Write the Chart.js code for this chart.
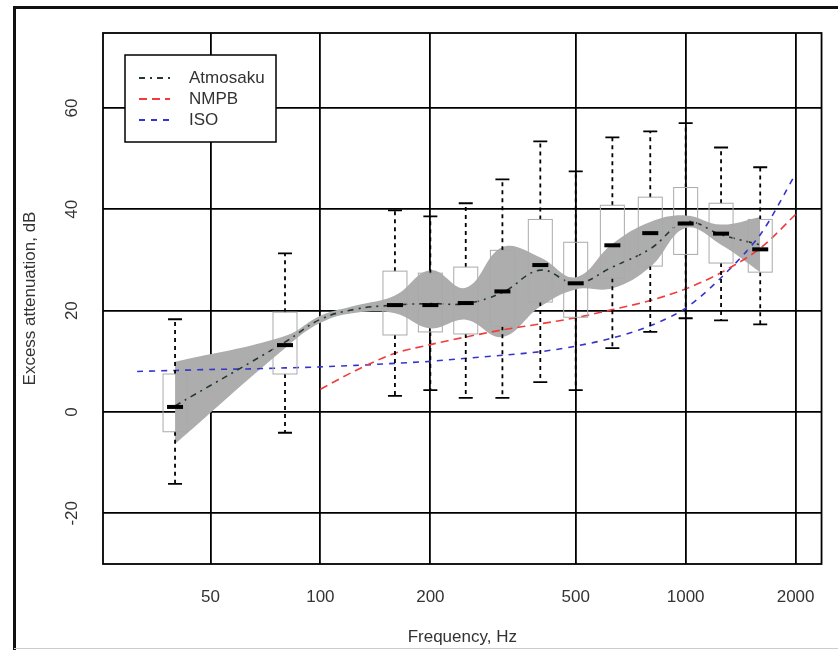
<!DOCTYPE html>
<html>
<head>
<meta charset="utf-8">
<script src="https://cdn.jsdelivr.net/npm/chart.js@4.4.0/dist/chart.umd.min.js"></script>
<style>
  html, body { margin: 0; padding: 0; background: #fff; }
  #wrap { width: 838px; height: 650px; }
</style>
</head>
<body>
<div id="wrap"><canvas id="chart" width="838" height="650"></canvas></div>
<script>
// Measured boxplots, one per third-octave band (Hz, dB)
const boxFreqs = [40, 80, 160, 200, 250, 315, 400, 500, 630, 800, 1000, 1250, 1600];
const whiskerLow = [-14.2, -4.1, 3.2, 4.3, 2.8, 2.8, 5.9, 4.3, 12.6, 15.8, 18.5, 18.1, 17.3];
const q1 = [-3.9, 7.5, 15.2, 15.8, 15.4, 16.9, 21.7, 18.7, 26.4, 28.8, 31.1, 29.4, 27.6];
const median = [1.0, 13.2, 21.1, 21.1, 21.5, 23.8, 29.0, 25.4, 32.9, 35.3, 37.2, 35.2, 32.1];
const q3 = [7.5, 19.7, 27.8, 27.4, 28.6, 31.9, 38.0, 33.5, 40.8, 42.4, 44.3, 41.2, 38.0];
const whiskerHigh = [18.3, 31.3, 39.8, 38.6, 41.2, 45.9, 53.4, 47.5, 54.2, 55.4, 57.0, 52.2, 48.3];

// Atmosaku prediction and its grey band
const bandFreqs = [40, 80, 100, 125, 160, 200, 250, 315, 400, 500, 630, 800, 1000, 1250, 1600];
const bandUpper = [9.9, 15.0, 19.0, 21.0, 23.0, 28.0, 24.5, 32.5, 30.5, 26.6, 33.2, 37.5, 38.8, 37.0, 38.5];
const bandLower = [-6.3, 12.6, 17.6, 19.6, 19.5, 16.5, 18.2, 14.8, 20.8, 24.2, 24.4, 28.6, 36.3, 33.0, 27.6];
const atmosaku = [1.2, 13.8, 18.3, 20.3, 21.1, 21.4, 21.4, 23.6, 28.0, 25.4, 28.6, 32.2, 37.5, 35.0, 33.0];

// NMPB model
const nmpbFreqs = [100, 125, 160, 200, 250, 315, 400, 500, 630, 800, 1000, 1250, 1600, 2000];
const nmpb = [4.5, 8.2, 11.6, 13.3, 14.8, 16.2, 17.4, 18.6, 20.2, 22.0, 24.3, 27.5, 32.3, 39.0];

// ISO 9613 model
const isoFreqs = [31.5, 40, 50, 63, 80, 100, 125, 160, 200, 250, 315, 400, 500, 630, 800, 1000, 1250, 1600, 2000];
const iso = [8.0, 8.2, 8.4, 8.5, 8.7, 8.9, 9.2, 9.6, 10.0, 10.6, 11.2, 11.9, 13.0, 14.6, 17.0, 20.5, 26.5, 35.0, 47.0];

const xTicks = [50, 100, 200, 500, 1000, 2000];
const yTicks = [-20, 0, 20, 40, 60];

const FONT = "'Liberation Sans', Arial, sans-serif";
const TEXT = "#333";

function pts(xs, ys) {
  return xs.map((x, i) => ({ x: x, y: ys[i] }));
}

// white page, partial outer frame
const framePlugin = {
  id: "frame",
  beforeDraw(chart) {
    const ctx = chart.ctx;
    ctx.save();
    ctx.fillStyle = "#fff";
    ctx.fillRect(0, 0, chart.width, chart.height);
    ctx.strokeStyle = "#111";
    ctx.lineWidth = 3;
    ctx.beginPath();
    ctx.moveTo(14.5, chart.height);
    ctx.lineTo(14.5, 7.5);
    ctx.lineTo(chart.width, 7.5);
    ctx.stroke();
    ctx.strokeStyle = "#ccc";
    ctx.lineWidth = 1;
    ctx.beginPath();
    ctx.moveTo(14, chart.height - 1.5);
    ctx.lineTo(chart.width, chart.height - 1.5);
    ctx.stroke();
    ctx.restore();
  },
  afterDraw(chart) {
    const a = chart.chartArea;
    const ctx = chart.ctx;
    ctx.save();
    ctx.strokeStyle = "#000";
    ctx.lineWidth = 1.8;
    ctx.strokeRect(a.left, a.top, a.right - a.left, a.bottom - a.top);
    ctx.restore();
  },
};

// boxplots drawn from the scales
const boxPlotPlugin = {
  id: "boxPlots",
  afterDatasetsDraw(chart) {
    const { ctx } = chart;
    const x = chart.scales.x;
    const y = chart.scales.y;
    ctx.save();
    boxFreqs.forEach((f, i) => {
      const cx = x.getPixelForValue(f);
      const yLo = y.getPixelForValue(whiskerLow[i]);
      const yQ1 = y.getPixelForValue(q1[i]);
      const yMed = y.getPixelForValue(median[i]);
      const yQ3 = y.getPixelForValue(q3[i]);
      const yHi = y.getPixelForValue(whiskerHigh[i]);

      // whiskers
      ctx.strokeStyle = "#000";
      ctx.lineWidth = 1.8;
      ctx.setLineDash([4, 4]);
      ctx.beginPath();
      ctx.moveTo(cx, yQ3);
      ctx.lineTo(cx, yHi);
      ctx.moveTo(cx, yQ1);
      ctx.lineTo(cx, yLo);
      ctx.stroke();
      ctx.setLineDash([]);
      // caps
      ctx.beginPath();
      ctx.moveTo(cx - 7, yHi);
      ctx.lineTo(cx + 7, yHi);
      ctx.moveTo(cx - 7, yLo);
      ctx.lineTo(cx + 7, yLo);
      ctx.stroke();
      // box
      ctx.strokeStyle = "#aaa";
      ctx.lineWidth = 1;
      ctx.strokeRect(cx - 12, yQ3, 24, yQ1 - yQ3);
      // median
      ctx.fillStyle = "#000";
      ctx.fillRect(cx - 8, yMed - 2, 16, 4);
    });
    ctx.restore();
  },
};

// legend box in the upper-left corner
const legendPlugin = {
  id: "boxLegend",
  afterDraw(chart) {
    const ctx = chart.ctx;
    const items = chart.data.datasets.filter((d) => d.inLegend);
    ctx.save();
    ctx.fillStyle = "#fff";
    ctx.fillRect(125, 55, 151, 87);
    ctx.strokeStyle = "#000";
    ctx.lineWidth = 1.5;
    ctx.strokeRect(125, 55, 151, 87);
    ctx.font = "17px " + FONT;
    ctx.textBaseline = "middle";
    items.forEach((d, i) => {
      const yy = 78 + i * 21;
      ctx.strokeStyle = d.borderColor;
      ctx.lineWidth = 1.8;
      ctx.setLineDash(d.borderDash);
      ctx.beginPath();
      ctx.moveTo(139, yy);
      ctx.lineTo(170, yy);
      ctx.stroke();
      ctx.setLineDash([]);
      ctx.fillStyle = TEXT;
      ctx.fillText(d.label, 189, yy);
    });
    ctx.restore();
  },
};

new Chart(document.getElementById("chart"), {
  type: "line",
  data: {
    datasets: [
      {
        label: "band upper",
        order: 10,
        data: pts(bandFreqs, bandUpper),
        borderWidth: 0,
        pointRadius: 0,
        tension: 0.4,
        fill: false,
      },
      {
        label: "band lower",
        order: 10,
        data: pts(bandFreqs, bandLower),
        borderWidth: 0,
        pointRadius: 0,
        tension: 0.4,
        fill: "-1",
        backgroundColor: "#adadad",
      },
      {
        label: "Atmosaku",
        order: 1,
        inLegend: true,
        data: pts(bandFreqs, atmosaku),
        borderColor: "#24382e",
        borderWidth: 1.6,
        borderDash: [6, 5, 2, 5],
        pointRadius: 0,
        tension: 0.4,
        fill: false,
      },
      {
        label: "NMPB",
        order: 1,
        inLegend: true,
        data: pts(nmpbFreqs, nmpb),
        borderColor: "#f03c3c",
        borderWidth: 1.6,
        borderDash: [8, 5],
        pointRadius: 0,
        tension: 0.3,
        fill: false,
      },
      {
        label: "ISO",
        order: 1,
        inLegend: true,
        data: pts(isoFreqs, iso),
        borderColor: "#3535cc",
        borderWidth: 1.6,
        borderDash: [6, 6],
        pointRadius: 0,
        tension: 0.3,
        fill: false,
      },
    ],
  },
  options: {
    responsive: false,
    animation: false,
    layout: { padding: { top: 33, right: 13, left: 0, bottom: 0 } },
    plugins: {
      legend: { display: false },
      tooltip: { enabled: false },
    },
    scales: {
      x: {
        type: "logarithmic",
        min: 25.4,
        max: 2355,
        afterBuildTicks: (s) => {
          s.ticks = xTicks.map((v) => ({ value: v }));
        },
        afterFit: (s) => {
          s.height = 86;
        },
        grid: { color: "#000", lineWidth: 1.8, drawTicks: false },
        border: { display: false },
        ticks: {
          color: TEXT,
          font: { size: 17, family: FONT },
          padding: 23,
          autoSkip: false,
          maxRotation: 0,
          callback: (v) => String(v),
        },
        title: {
          display: true,
          text: "Frequency, Hz",
          color: TEXT,
          font: { size: 17, family: FONT },
          padding: { top: 0, bottom: 2 },
        },
      },
      y: {
        min: -30,
        max: 74.8,
        afterBuildTicks: (s) => {
          s.ticks = yTicks.map((v) => ({ value: v }));
        },
        afterFit: (s) => {
          s.width = 103;
        },
        grid: { color: "#000", lineWidth: 1.8, drawTicks: false },
        border: { display: false },
        ticks: {
          color: TEXT,
          font: { size: 17, family: FONT },
          padding: 18,
          minRotation: 90,
          maxRotation: 90,
          crossAlign: "center",
          callback: (v) => String(v),
        },
        title: {
          display: true,
          text: "Excess attenuation, dB",
          color: TEXT,
          font: { size: 17, family: FONT },
          padding: { top: 20, bottom: 0 },
        },
      },
    },
  },
  plugins: [framePlugin, boxPlotPlugin, legendPlugin],
});
</script>
</body>
</html>
